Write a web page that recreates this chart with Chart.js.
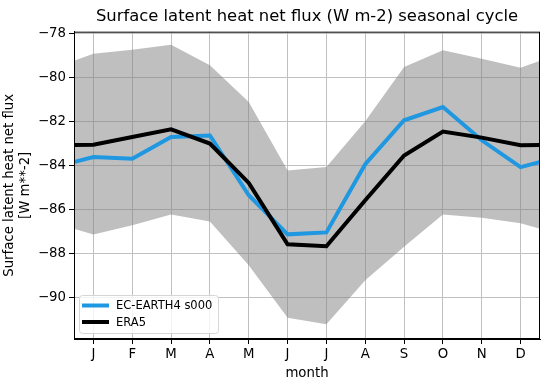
<!DOCTYPE html>
<html>
<head>
<meta charset="UTF-8">
<title>Surface latent heat net flux seasonal cycle</title>
<script src="https://cdn.jsdelivr.net/npm/chart.js"></script>
<style>
    body { margin: 0; background: #fff; }
    #wrap { width: 549px; height: 391px; }
</style>
</head>
<body>
<div id="wrap"><canvas id="chart" width="549" height="391"></canvas></div>
<script>
const months = ['J', 'F', 'M', 'A', 'M', 'J', 'J', 'A', 'S', 'O', 'N', 'D'];
const ecEarth = [-83.62, -83.70, -82.71, -82.64, -85.36, -87.14, -87.05, -83.95, -81.95, -81.35, -82.86, -84.08];
const era5 = [-83.06, -82.71, -82.36, -83.01, -84.80, -87.59, -87.68, -85.59, -83.55, -82.46, -82.74, -83.09];
const spreadUpper = [-78.92, -78.74, -78.51, -79.45, -81.12, -84.23, -84.08, -82.00, -79.53, -78.77, -79.15, -79.56];
const spreadLower = [-87.15, -86.73, -86.24, -86.55, -88.55, -90.93, -91.23, -89.23, -87.70, -86.24, -86.38, -86.63];
const yTicks = [-90, -88, -86, -84, -82, -80, -78];

// cycle wraps: December before January, January again after December
function wrap(vals) {
    const pts = [{x: 0, y: vals[11]}];
    vals.forEach((v, i) => pts.push({x: i + 1, y: v}));
    pts.push({x: 13, y: vals[0]});
    return pts;
}

const FONT = 'DejaVu Sans';
const BLUE = '#1f98e1';

const frame = {
    id: 'frame',
    afterDraw(chart) {
        const {ctx, chartArea: a} = chart;
        ctx.save();
        ctx.strokeStyle = '#000';
        ctx.lineWidth = 1;
        ctx.strokeRect(a.left + 0.5, a.top + 0.5, a.right - a.left - 1, a.bottom - a.top - 1);

        // legend in the lower left corner of the axes
        const items = [
            {label: 'EC-EARTH4 s000', color: BLUE},
            {label: 'ERA5', color: '#000000'}
        ];
        const x0 = a.left + 5, y0 = a.bottom - 44, w = 139, h = 38;
        ctx.fillStyle = 'rgba(255,255,255,0.8)';
        ctx.strokeStyle = '#d6d6d6';
        ctx.lineWidth = 1;
        ctx.beginPath();
        ctx.roundRect(x0 + 0.5, y0 + 0.5, w, h, 3);
        ctx.fill();
        ctx.stroke();
        ctx.font = '11.5px ' + FONT;
        ctx.textBaseline = 'middle';
        items.forEach((it, i) => {
            const y = y0 + 10.5 + i * 16.5;
            ctx.strokeStyle = it.color;
            ctx.lineWidth = 4;
            ctx.beginPath();
            ctx.moveTo(x0 + 3, y);
            ctx.lineTo(x0 + 30, y);
            ctx.stroke();
            ctx.fillStyle = '#000';
            ctx.fillText(it.label, x0 + 37, y + 1);
        });
        ctx.restore();
    }
};

new Chart(document.getElementById('chart'), {
    type: 'line',
    data: {
        datasets: [
            {
                label: 'lower',
                data: wrap(spreadLower),
                borderWidth: 0,
                pointRadius: 0,
                fill: false,
                order: 3
            },
            {
                label: 'upper',
                data: wrap(spreadUpper),
                borderWidth: 0,
                pointRadius: 0,
                backgroundColor: 'rgba(128,128,128,0.5)',
                fill: '-1',
                order: 2
            },
            {
                label: 'EC-EARTH4 s000',
                data: wrap(ecEarth),
                borderColor: BLUE,
                borderWidth: 4,
                pointRadius: 0,
                fill: false,
                order: 1
            },
            {
                label: 'ERA5',
                data: wrap(era5),
                borderColor: '#000000',
                borderWidth: 4,
                pointRadius: 0,
                fill: false,
                order: 0
            }
        ]
    },
    options: {
        responsive: false,
        animation: false,
        layout: { padding: { left: 0, right: 9, top: 1, bottom: 0 } },
        plugins: {
            legend: { display: false },
            tooltip: { enabled: false },
            title: {
                display: true,
                fullSize: false,
                text: 'Surface latent heat net flux (W m-2) seasonal cycle',
                color: '#000',
                font: { family: FONT, size: 16.4, weight: 'normal' },
                padding: { top: 6, bottom: 5 }
            }
        },
        scales: {
            x: {
                type: 'linear',
                min: 0.5,
                max: 12.5,
                afterBuildTicks: axis => { axis.ticks = months.map((m, i) => ({value: i + 1})); },
                afterFit: axis => { axis.height = 52; },
                ticks: {
                    autoSkip: false,
                    maxRotation: 0,
                    color: '#000',
                    padding: 3,
                    font: { family: FONT, size: 13.3 },
                    callback: v => months[v - 1]
                },
                grid: { color: '#c0c0c0', lineWidth: 1, tickLength: 5, tickColor: '#000' },
                border: { color: '#000' },
                title: {
                    display: true,
                    text: 'month',
                    color: '#000',
                    font: { family: FONT, size: 13.3 },
                    padding: { top: 0, bottom: 9 }
                }
            },
            y: {
                min: -91.9,
                max: -77.92,
                afterBuildTicks: axis => { axis.ticks = yTicks.map(v => ({value: v})); },
                afterFit: axis => { axis.width = 74; },
                ticks: {
                    color: '#000',
                    padding: 3,
                    font: { family: FONT, size: 13.3 },
                    callback: v => String(v).replace('-', '\u2212')
                },
                grid: { color: '#c0c0c0', lineWidth: 1, tickLength: 5, tickColor: '#000' },
                border: { color: '#000' },
                title: {
                    display: true,
                    text: ['Surface latent heat net flux', '[W m**-2]'],
                    color: '#000',
                    font: { family: FONT, size: 13.3, lineHeight: 1.25 },
                    padding: { top: 1, bottom: 2 }
                }
            }
        }
    },
    plugins: [frame]
});
</script>
</body>
</html>
